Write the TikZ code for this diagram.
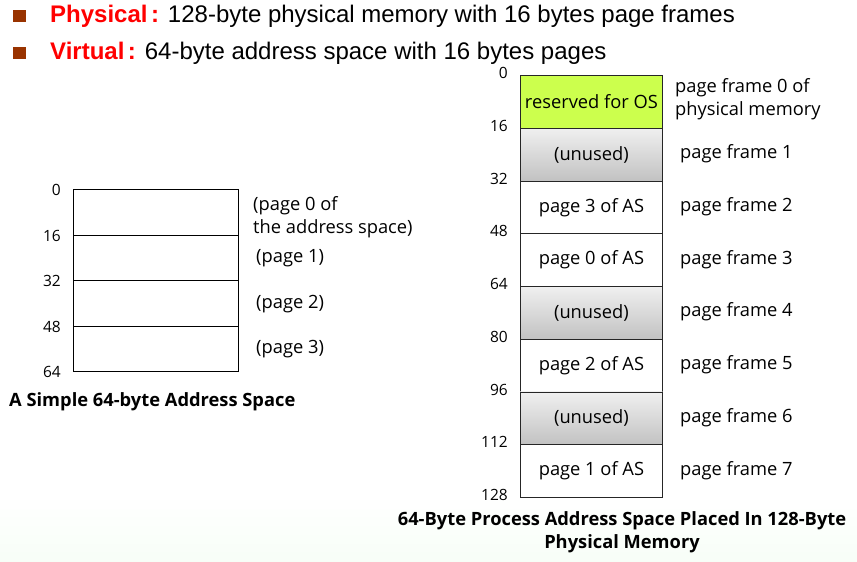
\documentclass[tikz,border=0pt]{standalone}
\usepackage{fontspec}
\setmainfont{Open Sans}
\newfontfamily\hdfont{Liberation Sans}
\definecolor{bulletbrown}{HTML}{993300}
\definecolor{osgreen}{HTML}{CCFF4D}
\begin{document}
\begin{tikzpicture}[x=1pt,y=-1pt,
  bullet/.style={fill=bulletbrown, minimum size=12.5pt, inner sep=0pt},
  head/.style={anchor=west, inner sep=0pt, font=\hdfont\fontsize{24}{26}\selectfont},
  frame/.style={draw=black!85, line width=0.9pt, minimum width=142pt, minimum height=52.75pt,
    inner sep=0pt, anchor=north west, font=\fontsize{18.3}{20}\selectfont},
  unused/.style={frame, top color=black!6, bottom color=black!24},
  page/.style={draw=black, line width=0.9pt, minimum width=165pt, minimum height=45.5pt,
    inner sep=0pt, anchor=north west},
  addr/.style={anchor=east, inner sep=0pt, font=\fontsize{15.5}{17}\selectfont},
  note/.style={anchor=west, inner sep=0pt, align=left, font=\fontsize{18.3}{23}\selectfont},
  caption/.style={inner sep=0pt, align=center, font=\bfseries\fontsize{18.3}{23}\selectfont}]
\useasboundingbox (0,0) rectangle (857,562);

% faint backdrop along the bottom edge
\shade[top color=white, bottom color=black!9!green!3] (0,495) rectangle (857,562);

% headline bullets
\node[bullet] (b1) at (19.5,16) {};
\node[bullet] (b2) at (19.5,53) {};
\node[head] (h1) at (50,16) {\textcolor{red}{\bfseries Physical\kern3.5pt:} 128-byte physical memory with 16 bytes page frames};
\node[head] (h2) at (50,53) {\textcolor{red}{\bfseries Virtual\kern3.5pt:} 64-byte address space with 16 bytes pages};

% simple 64-byte address space
\foreach \i in {0,...,3} {
  \node[page] (p\i) at (73,189+45.5*\i) {};
}
\foreach \v [count=\k from 0] in {0,16,32,48,64} {
  \node[addr] (pa\k) at (61,190+45.5*\k) {\v};
}
\node[note] (pn0) at (253,217) {(page 0 of\\the address space)};
\node[note] (pn1) at (256,258) {(page 1)};
\node[note] (pn2) at (256,304) {(page 2)};
\node[note] (pn3) at (256,349) {(page 3)};
\node[caption, anchor=west] (cap1) at (9,402) {A Simple 64-byte Address Space};

% physical memory frames
\node[frame, fill=osgreen] (f0) at (520,75) {reserved for OS};
\node[unused] (f1) at (520,75+52.75) {(unused)};
\node[frame] (f2) at (520,75+2*52.75) {page 3 of AS};
\node[frame] (f3) at (520,75+3*52.75) {page 0 of AS};
\node[unused] (f4) at (520,75+4*52.75) {(unused)};
\node[frame] (f5) at (520,75+5*52.75) {page 2 of AS};
\node[unused] (f6) at (520,75+6*52.75) {(unused)};
\node[frame] (f7) at (520,75+7*52.75) {page 1 of AS};

\foreach \v [count=\k from 0] in {0,16,32,48,64,80,96,112,128} {
  \node[addr] (fa\k) at (508,73+52.75*\k) {\v};
}
\node[note] (fn0) at (675,99.5) {page frame 0 of\\physical memory};
\foreach \k in {1,...,7} {
  \node[note] (fn\k) at (680,75+52.75*\k+26) {page frame \k};
}
\node[caption] (cap2) at (622,532.5) {64-Byte Process Address Space Placed In 128-Byte\\Physical Memory};
\end{tikzpicture}
\end{document}
